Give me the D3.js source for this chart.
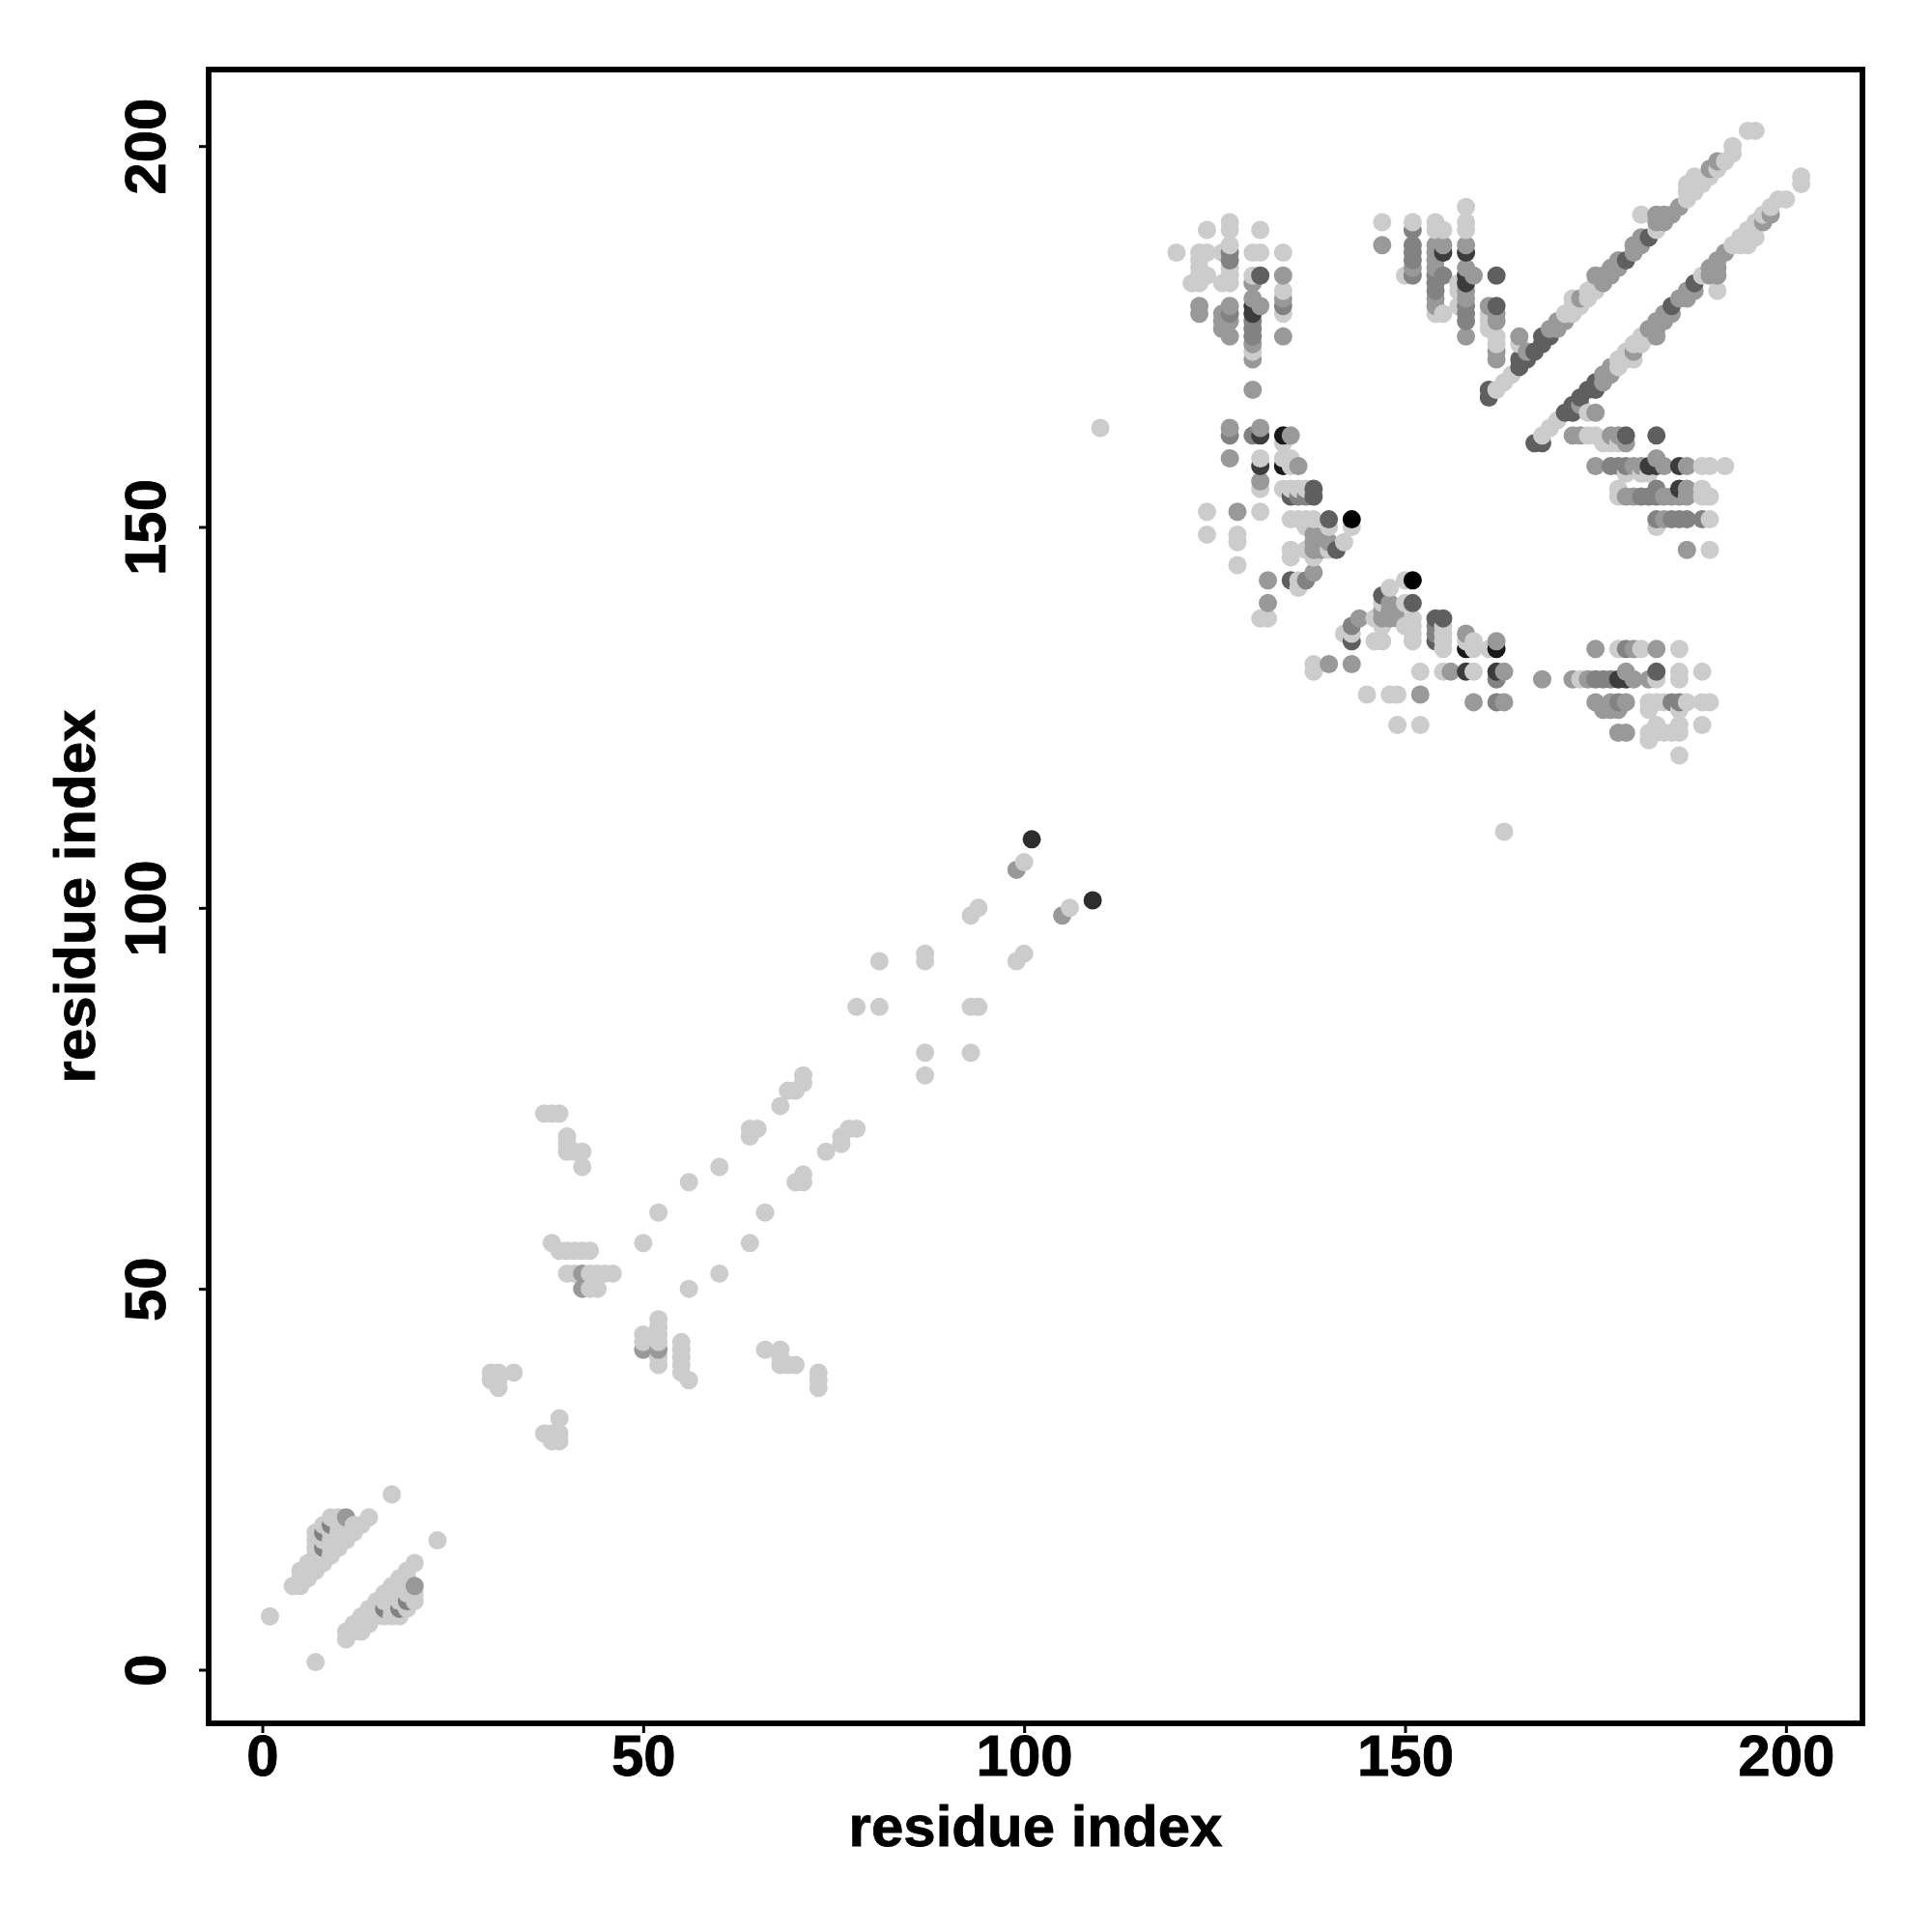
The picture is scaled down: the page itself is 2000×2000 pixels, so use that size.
<!DOCTYPE html>
<html><head><meta charset="utf-8">
<script src="https://cdn.jsdelivr.net/npm/d3@7"></script>
<style>html,body{margin:0;background:#fff}svg{display:block}</style>
</head><body><svg id="c" width="2000" height="2000"></svg>
<script>
const gray204 = [[1,7],[17,23],[4,11],[5,11],[5,12],[5,13],[6,12],[6,13],[6,14],[7,13],[7,14],[7,15],[8,14],[8,15],[9,15],[9,16],[10,16],[10,17],[11,17],[11,18],[12,18],[12,19],[13,19],[14,20],[7,16],[7,17],[8,17],[9,17],[7,18],[9,18],[10,18],[8,19],[10,19],[11,19],[9,20],[10,20],
[37,73],[38,73],[39,73],[40,70],[40,69],[40,68],[41,68],[42,68],[42,66],[38,56],[39,55],[40,55],[41,55],[42,55],[43,55],[40,52],[41,52],[43,52],[44,52],[45,52],[46,52],[43,50],[44,50],[30,39],[31,39],[33,39],[30,38],[31,38],[31,37],
[50,56],[52,60],[56,64],[60,66],[64,71],[64,70],[65,71],[68,74],[69,76],[70,76],[71,78],[71,77],[78,87],[81,87],[81,93],[87,93],[87,94],[93,99],[94,100],[100,106],[110,163],
[162,168],[163,169],[164,170],[165,174],[171,178],[172,178],[172,179],[172,180],[173,179],[174,180],[174,181],[175,181],[175,182],[183,189],[181,191],[187,193],[187,194],[187,195],[188,194],[188,195],[188,196],[189,195],[190,196],[191,197],[192,198],[193,200],[193,199],[195,202],[196,202],
[120,186],[122,182],[123,186],[123,185],[123,184],[123,183],[123,182],[124,189],[124,186],[124,183],[126,186],[126,182],[127,190],[127,189],[127,187],[127,184],[127,183],[127,182],[130,186],[130,183],[130,173],[131,189],[131,186],[134,186],[134,181],[134,178],
[147,190],[150,183],[151,190],[154,190],[154,189],[154,178],[155,189],[155,178],[157,182],[157,181],[157,179],[158,192],[158,190],[158,189],[161,178],[161,177],[161,176],[162,175],[162,174],
[131,159],[131,155],[131,152],[134,161],[134,159],[135,159],[135,158],[134,155],[135,155],[136,155],[137,155],[124,152],[135,151],[136,151],[137,151],[138,151],[143,150],[140,150],[137,150],[124,149],[128,149],[128,148],[128,145],[135,147],[135,146],[137,147],[140,147],[142,148],[138,146],[136,143],[136,142],[131,138],[132,138]];
const gray153 = [[11,20],[42,52],[42,50],[99,105],
[165,175],[166,173],[169,176],[170,176],[170,177],[171,177],[173,180],[175,183],[176,182],[176,183],[177,183],[177,184],[178,184],[178,185],[180,186],[180,187],[181,187],[181,188],[183,190],[183,191],[184,190],[184,191],[185,191],[186,192],[190,197],[191,198],
[123,179],[123,178],[126,178],[126,177],[126,176],[127,179],[127,177],[127,175],[130,182],[130,180],[130,174],[130,172],[130,168],[131,179],[134,183],[134,180],[134,175],
[147,187],[151,184],[154,187],[154,186],[154,185],[154,184],[154,180],[154,179],[155,187],[158,187],[158,184],[158,181],[158,180],[158,175],[159,183],[161,179],[162,178],[162,177],[162,173],[162,172],
[127,163],[127,159],[131,163],[135,162],[136,158],[131,156],[128,152],[138,149],[138,148],[139,148],[140,148],[139,147],[138,147],[132,143],[132,140],[138,144]];
const gray130 = [[8,16],[8,18],[9,19],
[127,186],[127,185],[127,178],[130,177],[130,176],[130,175],[134,179],
[151,189],[151,187],[151,186],[151,185],[151,183],[154,183],[154,182],[154,181],[155,183],[158,179],[158,178],[158,177],
[127,162],[130,162],[137,154],[137,143],[136,154]];
const gray95 = [[161,168],[161,167],[165,172],[165,171],[166,172],[167,173],[168,175],[168,174],[169,175],[179,185],[182,188],
[131,183],[162,183],[162,179],[135,154],[138,154],[138,155],[140,151],[141,147],[135,143]];
const gray60 = [[130,179],[130,178],[155,186],[158,186],[158,183],[158,182],[131,162],[131,158]];
const gray45 = [[101,109]];
const gray25 = [[134,162],[134,158]];
const gray0 = [[143,151]];
const grayLevels = [[204,gray204],[153,gray153],[130,gray130],[95,gray95],[60,gray60],[45,gray45],[25,gray25],[0,gray0]];
const xTicks = [0,50,100,150,200];
const yTicks = [0,50,100,150,200];
const xTitle = "residue index", yTitle = "residue index";

const points = [];
grayLevels.forEach(([g,list])=>list.forEach(([i,j])=>{
  points.push({x:i,y:j,g}); points.push({x:j,y:i,g});
}));
points.sort((a,b)=>a.x-b.x||a.y-b.y);

const font = '"Liberation Sans", Arial, sans-serif';
const L=216,R=1928,T=72,B=1784;
const x = d3.scaleLinear().domain([-7.04,210.04]).range([L,R]);
const y = d3.scaleLinear().domain([-7.04,210.04]).range([B,T]);
const svg = d3.select("#c");
svg.append("rect").attr("width",2000).attr("height",2000).attr("fill","#fff");

svg.append("g").selectAll("circle").data(points).join("circle")
  .attr("cx",d=>x(d.x)).attr("cy",d=>y(d.y)).attr("r",9.5)
  .attr("fill",d=>d3.rgb(d.g,d.g,d.g));

const gx = svg.append("g").attr("transform",`translate(0,${B})`)
  .call(d3.axisBottom(x).tickValues(xTicks).tickSize(10).tickPadding(1));
const gy = svg.append("g").attr("transform",`translate(${L},0)`)
  .call(d3.axisLeft(y).tickValues(yTicks).tickSize(10));
[gx,gy].forEach(g=>{
  g.select(".domain").remove();
  g.selectAll("line").attr("stroke","#000").attr("stroke-width",3);
  g.selectAll("text").attr("font-family",font).attr("font-weight","bold").attr("font-size",60).attr("fill","#000")
    .attr("stroke","#000").attr("stroke-width",0.8);
});
gy.selectAll("text").attr("x",null).attr("dy",null).attr("text-anchor","middle")
  .attr("transform","translate(-45,0) rotate(-90)");

svg.append("rect").attr("x",L).attr("y",T).attr("width",R-L).attr("height",B-T)
  .attr("fill","none").attr("stroke","#000").attr("stroke-width",5.8);

svg.append("text").attr("x",(L+R)/2).attr("y",1911).attr("text-anchor","middle")
  .attr("font-family",font).attr("font-weight","bold").attr("font-size",60)
  .attr("stroke","#000").attr("stroke-width",0.8).text(xTitle);
svg.append("text").attr("transform",`translate(98,${(T+B)/2}) rotate(-90)`).attr("text-anchor","middle")
  .attr("font-family",font).attr("font-weight","bold").attr("font-size",60)
  .attr("stroke","#000").attr("stroke-width",0.8).text(yTitle);
</script></body></html>
